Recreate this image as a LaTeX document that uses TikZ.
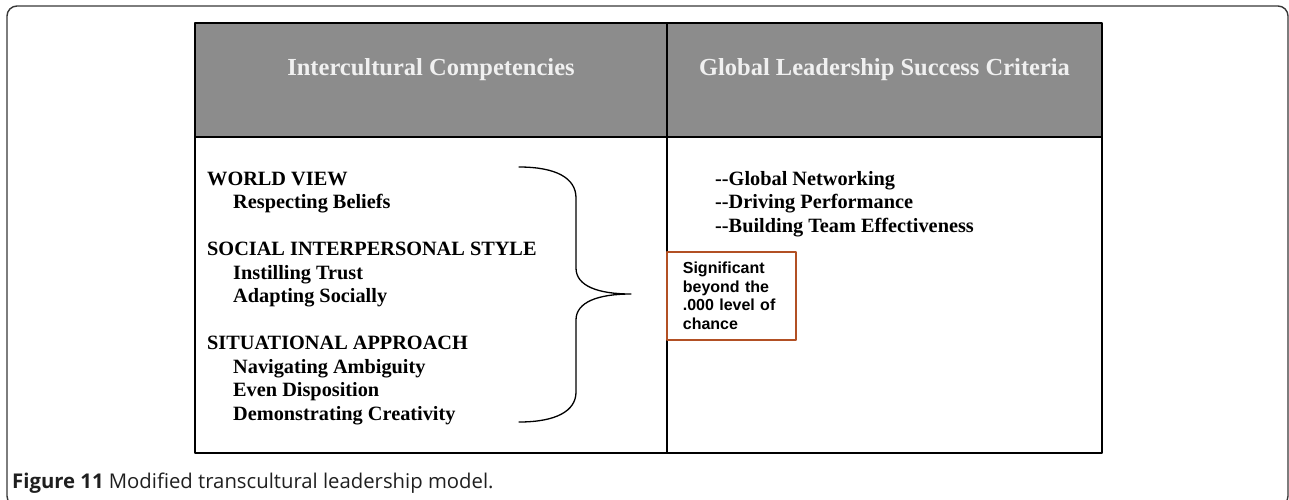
\documentclass[tikz,border=0pt]{standalone}
\usepackage{fontspec}
\setmainfont{Liberation Serif}
\newfontfamily\notefont{Liberation Sans}
\newfontfamily\capfont{Open Sans}
\definecolor{headgray}{RGB}{140,140,140}
\definecolor{noteorange}{RGB}{178,80,36}
\definecolor{framegray}{RGB}{55,55,55}
\begin{document}
\begin{tikzpicture}[x=1pt, y=-1pt, line join=round, line cap=round]
			\tikzset{head/.style={font=\fontsize{24.5}{29}\selectfont\bfseries, text=white!94!black, anchor=base, inner sep=0pt},
				item/.style={font=\fontsize{20.3}{23.5}\selectfont\bfseries, anchor=base west, inner sep=0pt},
				rule/.style={line width=1.1pt}}
			\clip (0,0) rectangle (1289,499);
			\draw[framegray, line width=1.4pt, rounded corners=10pt] (7,6) rectangle (1288,506);
			% table
			\fill[headgray] (195,23) rectangle (1102,137);
			\draw[rule] (195,23) rectangle (1102,453);
			\draw[rule] (195,137)--(1102,137);
			\draw[rule] (667,23)--(667,453);
			\node[head] (comphead) at (431,75) {Intercultural Competencies};
			\node[head] (critHead) at (884.5,75) {Global Leadership Success Criteria};
			\foreach \y/\dx/\txt [count=\i] in {185/0/WORLD VIEW, 208.5/26/Respecting Beliefs,
				255.5/0/SOCIAL INTERPERSONAL STYLE, 279/26/Instilling Trust, 302.5/26/Adapting Socially,
				349.5/0/SITUATIONAL APPROACH, 373/26/Navigating Ambiguity, 396.5/26/Even Disposition, 420/26/Demonstrating Creativity}
			\node[item] (comp\i) at (207+\dx,\y) {\txt};
			\foreach \y/\txt [count=\i] in {185/Global Networking, 208.5/Driving Performance, 232/Building Team Effectiveness}
			\node[item] (crit\i) at (715,\y) {{-}{-}\txt};
			% brace
			\coordinate (bracetop) at (519,167);
			\coordinate (bracetip) at (631,294);
			\coordinate (bracebot) at (519,422);
			\draw[line width=1.3pt] (bracetop) .. controls (556,167) and (576,178) .. (576,198)--(576,268)
				.. controls (576,286) and (598,294) .. (bracetip)
				.. controls (598,294) and (576,302) .. (576,320)--(576,392)
				.. controls (576,411) and (556,422) .. (bracebot);
			\node[draw=noteorange, fill=white, line width=1.7pt, anchor=north west, minimum width=129pt, minimum height=88pt,
				inner xsep=16pt, text width=97pt, align=left, font=\notefont\fontsize{16}{18.7}\selectfont\bfseries] (note) at (666,251)
				{Significant\\beyond the\\.000 level of\\chance};
			\node[anchor=base west, inner sep=0pt, text=black!88, font=\capfont\fontsize{20.3}{24}\selectfont] (caption) at (12,488)
				{\textbf{Figure 11} Modified transcultural leadership model.};
		\end{tikzpicture}
\end{document}
